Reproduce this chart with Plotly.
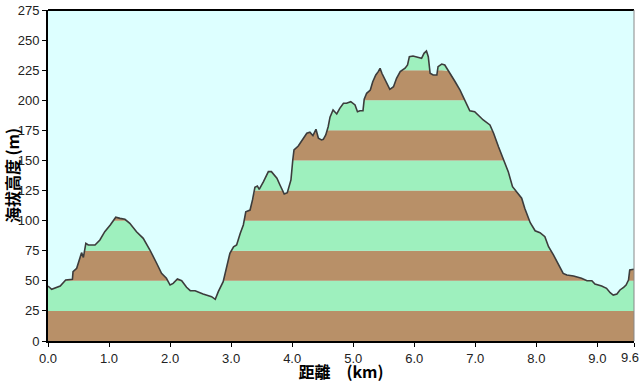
import numpy as np
import plotly.graph_objects as go

# Elevation profile
dist_km = [0.00, 0.06, 0.20, 0.29, 0.40, 0.41, 0.47, 0.52, 0.55, 0.58, 0.62, 0.66, 0.77, 0.85, 0.93,
           1.02, 1.11, 1.18, 1.26, 1.34, 1.45, 1.56, 1.67, 1.78, 1.86, 1.94, 2.00, 2.05, 2.12, 2.19,
           2.27, 2.33, 2.41, 2.54, 2.68, 2.74, 2.79, 2.87, 2.93, 2.98, 3.04, 3.09, 3.15, 3.20, 3.24,
           3.31, 3.35, 3.39, 3.43, 3.46, 3.53, 3.61, 3.66, 3.75, 3.80, 3.87, 3.92, 3.98, 4.01, 4.03,
           4.10, 4.16, 4.24, 4.29, 4.34, 4.39, 4.43, 4.48, 4.51, 4.55, 4.59, 4.62, 4.67, 4.73, 4.78,
           4.84, 4.89, 4.96, 5.03, 5.07, 5.11, 5.16, 5.18, 5.22, 5.28, 5.32, 5.37, 5.41, 5.44, 5.47,
           5.52, 5.60, 5.66, 5.71, 5.77, 5.85, 5.89, 5.92, 5.98, 6.07, 6.12, 6.16, 6.20, 6.23, 6.26,
           6.31, 6.37, 6.39, 6.45, 6.50, 6.56, 6.61, 6.67, 6.75, 6.80, 6.86, 6.91, 6.99, 7.05, 7.13,
           7.24, 7.30, 7.38, 7.46, 7.54, 7.61, 7.68, 7.76, 7.81, 7.90, 7.98, 8.06, 8.14, 8.20, 8.28,
           8.36, 8.44, 8.50, 8.61, 8.74, 8.83, 8.91, 8.96, 9.07, 9.15, 9.21, 9.26, 9.32, 9.37, 9.43,
           9.47, 9.51, 9.53, 9.60]
elev_m = [45.7, 43.0, 45.7, 50.7, 51.3, 57.6, 60.4, 69.5, 73.4, 69.5, 81.2, 79.8, 79.8, 83.9, 90.8,
          96.4, 102.8, 101.9, 101.1, 97.8, 90.8, 85.3, 75.6, 64.6, 56.2, 52.1, 46.5, 47.9, 51.5, 50.1,
          44.6, 41.8, 41.8, 39.0, 36.8, 34.6, 41.0, 49.3, 61.7, 72.9, 78.3, 79.8, 89.5, 96.4, 107.4,
          108.8, 117.2, 127.7, 128.8, 126.0, 132.4, 140.7, 140.7, 135.2, 129.6, 122.1, 123.2, 133.8, 150.4, 158.7,
          162.0, 167.0, 172.6, 173.4, 170.6, 175.9, 168.4, 167.0, 167.6, 171.2, 178.0, 186.0, 191.9, 188.6, 193.3,
          197.5, 197.5, 198.8, 196.1, 190.5, 191.3, 191.3, 200.8, 205.8, 208.5, 215.4, 221.0, 223.8, 226.6, 222.4,
          216.8, 209.1, 211.3, 218.3, 223.8, 226.6, 229.3, 236.2, 236.8, 235.7, 234.9, 239.0, 240.9, 236.2, 222.4,
          221.0, 221.0, 227.9, 230.1, 229.3, 224.6, 221.0, 215.4, 208.5, 203.0, 196.1, 191.3, 190.5, 187.8, 183.6,
          179.5, 172.6, 161.4, 150.4, 140.7, 128.2, 124.0, 118.6, 110.3, 98.3, 91.6, 90.0, 86.7, 78.3, 71.5,
          64.0, 56.2, 54.8, 54.0, 52.1, 50.1, 50.1, 47.4, 45.7, 43.8, 40.1, 38.2, 39.0, 42.4, 44.6,
          46.5, 50.7, 59.0, 59.6]

band_step = 25
band_colors = ["#B89068", "#9EF0BE"]
x_tickvals = [0, 1, 2, 3, 4, 5, 6, 7, 8, 9, 9.6]
x_ticktext = ["0.0", "1.0", "2.0", "3.0", "4.0", "5.0", "6.0", "7.0", "8.0", "9.0", "9.6"]
y_max = 275

levels = np.arange(band_step, y_max + band_step, band_step)

# insert exact crossing points of band levels so that the clipped bands follow the line
xs, ys = [dist_km[0]], [elev_m[0]]
for i in range(1, len(dist_km)):
    x0, y0, x1, y1 = dist_km[i - 1], elev_m[i - 1], dist_km[i], elev_m[i]
    lo, hi = min(y0, y1), max(y0, y1)
    cross = [L for L in levels if lo < L < hi]
    pts = [(x0 + (L - y0) / (y1 - y0) * (x1 - x0), L) for L in cross]
    pts.sort()
    for p in pts:
        xs.append(p[0]); ys.append(p[1])
    xs.append(x1); ys.append(y1)
xs = np.array(xs); ys = np.array(ys)

fig = go.Figure()
nb = int(y_max / band_step)
for k in range(nb):
    lower = np.minimum(ys, k * band_step)
    upper = np.minimum(ys, (k + 1) * band_step)
    if upper.max() <= k * band_step:
        break
    fig.add_trace(go.Scatter(x=xs, y=lower, mode="lines", line=dict(width=0),
                             hoverinfo="skip", showlegend=False))
    fig.add_trace(go.Scatter(x=xs, y=upper, mode="lines", line=dict(width=0),
                             fill="tonexty", fillcolor=band_colors[k % 2],
                             hoverinfo="skip", showlegend=False))

fig.add_trace(go.Scatter(x=dist_km, y=elev_m, mode="lines",
                         line=dict(color="#3c3c3c", width=1.6), showlegend=False))

tick_font = dict(family="Liberation Sans, Arial, sans-serif", size=13, color="#222")
title_font = dict(family="Noto Sans CJK TC, Noto Sans CJK SC, sans-serif", size=16, color="#000")

# last tick label drawn as annotation so it is not clipped at the right edge
main_ticktext = x_ticktext[:-1] + [""]

fig.update_layout(
    width=640, height=383,
    margin=dict(l=48, r=6, t=10, b=42),
    paper_bgcolor="white",
    plot_bgcolor="#DDFFFF",
    xaxis=dict(range=[0, 9.6], tickvals=x_tickvals, ticktext=main_ticktext, automargin=False,
               showgrid=False, zeroline=False, showline=True, linecolor="black", linewidth=2,
               ticks="outside", ticklen=4, tickcolor="black", tickfont=tick_font,
               title=dict(text="<b>距離　(km)</b>", font=title_font, standoff=5)),
    yaxis=dict(range=[0, y_max], dtick=25, showgrid=False, zeroline=False, automargin=False,
               showline=True, linecolor="black", linewidth=2,
               ticks="outside", ticklen=4, tickcolor="black", tickfont=tick_font,
               title=dict(text="<b>海拔高度 (m)</b>", font=title_font, standoff=2)),
    annotations=[
        dict(x=x_tickvals[-1], xref="x", y=0, yref="paper", yshift=-7, xshift=-4,
             text=x_ticktext[-1], showarrow=False, xanchor="center", yanchor="top",
             font=tick_font),
    ],
    shapes=[
        dict(type="line", xref="paper", yref="paper", x0=0, x1=1, y0=1, y1=1,
             line=dict(color="black", width=2)),
        dict(type="line", xref="paper", yref="paper", x0=1, x1=1, y0=0, y1=1,
             line=dict(color="#888888", width=1)),
    ],
)

fig.write_html("out.html", config={"displayModeBar": False},
               post_script="document.body.style.margin='0';")
